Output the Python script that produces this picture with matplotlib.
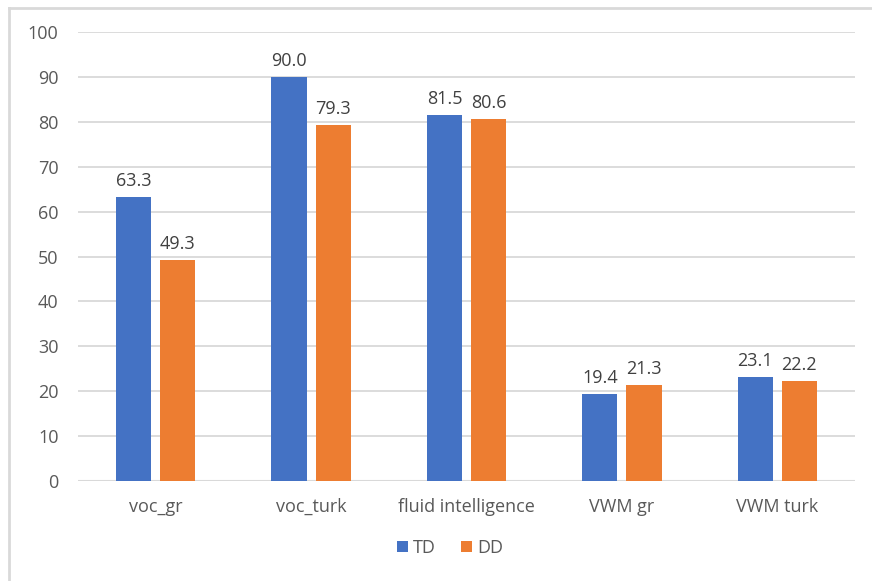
import matplotlib
matplotlib.use("Agg")
import matplotlib.pyplot as plt
from matplotlib.lines import Line2D
import numpy as np

categories = ["voc_gr", "voc_turk", "fluid intelligence", "VWM gr", "VWM turk"]
td_values = [63.3, 90.0, 81.5, 19.4, 23.1]
dd_values = [49.3, 79.3, 80.6, 21.3, 22.2]
series_names = ["TD", "DD"]
y_ticks = [0, 10, 20, 30, 40, 50, 60, 70, 80, 90, 100]

blue = "#4472C4"
orange = "#ED7D31"
text_col = "#595959"
grid_col = "#D9D9D9"

plt.rcParams["font.family"] = ["Open Sans", "DejaVu Sans"]

W, H = 872, 581
fig = plt.figure(figsize=(W / 100, H / 100), dpi=100)
ax = fig.add_axes([78 / W, 1 - 481 / H, (855 - 78) / W, (481 - 32) / H])

x = np.arange(len(categories))
bw = 0.226
gap = 0.058
off = (bw + gap) / 2
b1 = ax.bar(x - off, td_values, bw, color=blue, label=series_names[0], zorder=3)
b2 = ax.bar(x + off, dd_values, bw, color=orange, label=series_names[1], zorder=3)

fs = 13
for bars, vals in ((b1, td_values), (b2, dd_values)):
    for rect, v in zip(bars, vals):
        ax.annotate(f"{v:.1f}", (rect.get_x() + rect.get_width() / 2, v),
                    xytext=(0, 5), textcoords="offset points",
                    ha="center", va="bottom", fontsize=fs, color="#404040")

ax.set_xlim(-0.5, len(categories) - 0.5)
ax.set_ylim(0, 100)
ax.set_yticks(y_ticks)
ax.set_xticks(x)
ax.set_xticklabels(categories)
ax.tick_params(axis="both", length=0, labelsize=fs, labelcolor=text_col)
ax.tick_params(axis="y", pad=14)
ax.tick_params(axis="x", pad=12)
ax.grid(axis="y", color=grid_col, linewidth=1.3, zorder=0)
for s in ax.spines.values():
    s.set_visible(False)
ax.axhline(0, color=grid_col, linewidth=1.5, zorder=2)

ax.legend(loc="center", bbox_to_anchor=(450 / W, 1 - 548 / H),
          bbox_transform=fig.transFigure, ncol=2, frameon=False,
          fontsize=fs, labelcolor=text_col, handlelength=0.6, handleheight=0.6,
          handletextpad=0.3, columnspacing=1.4)

# chart frame (top and left edges)
fig.add_artist(Line2D([9 / W, 9 / W], [0, 1 - 8 / H], transform=fig.transFigure,
                      color=grid_col, linewidth=2))
fig.add_artist(Line2D([9 / W, 871 / W], [1 - 8 / H, 1 - 8 / H], transform=fig.transFigure,
                      color=grid_col, linewidth=2))

fig.savefig("out.png", dpi=100)
